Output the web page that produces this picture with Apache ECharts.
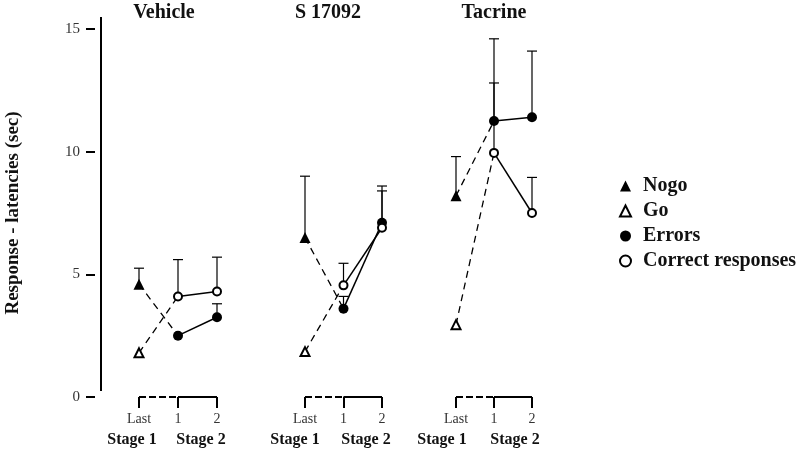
<!DOCTYPE html>
<html><head><meta charset="utf-8">
<script src="https://cdn.jsdelivr.net/npm/echarts@6/dist/echarts.min.js"></script>
<style>html,body{margin:0;padding:0;background:#fff}#c{width:800px;height:451px}</style>
</head><body><div id="c"></div>
<script>
// ---- data ----
const panels = ['Vehicle', 'S 17092', 'Tacrine'];
const xLabels = ['Last', '1', '2'];
const stageLabels = ['Stage 1', 'Stage 2'];
const legendNames = ['Nogo', 'Go', 'Errors', 'Correct responses'];
const yTicks = [0, 5, 10, 15];
const yTitle = 'Response - latencies (sec)';
// per panel values (Last stage 1)
const nogo = [4.6, 6.5, 8.2];
const nogoUpper = [5.25, 9.0, 9.8];
const go = [1.8, 1.85, 2.95];
// stage 2 (sessions 1, 2)
const errorsStage2 = [[2.5, 3.25], [3.6, 7.1], [11.25, 11.4]];
const errorsUpper = [[null, 3.8], [4.1, 8.6], [14.6, 14.1]];
const correctStage2 = [[4.1, 4.3], [4.55, 6.9], [9.95, 7.5]];
const correctUpper = [[5.6, 5.7], [5.45, 8.4], [12.8, 8.95]];

// ---- layout ----
const FONT = '"Liberation Serif", "DejaVu Serif", serif';
const gridPos = [{left: 139, width: 78}, {left: 305, width: 77}, {left: 456, width: 76}];
const gridTop = 29, gridBottom = 54;

const chart = echarts.init(document.getElementById('c'), null, {renderer: 'canvas'});

function renderErr(params, api) {
  const x = api.value(0);
  const p0 = api.coord([x, api.value(1)]);
  const p1 = api.coord([x, api.value(2)]);
  const hw = 5;
  return {type: 'group', children: [
    {type: 'line', shape: {x1: p0[0], y1: p0[1], x2: p1[0], y2: p1[1]}, style: {stroke: '#000', lineWidth: 1.2}},
    {type: 'line', shape: {x1: p1[0] - hw, y1: p1[1], x2: p1[0] + hw, y2: p1[1]}, style: {stroke: '#000', lineWidth: 1.2}}
  ]};
}

const grids = [], xAxes = [], yAxes = [], series = [];
panels.forEach((p, i) => {
  grids.push({left: gridPos[i].left, width: gridPos[i].width, top: gridTop, bottom: gridBottom});
  xAxes.push({
    type: 'category', gridIndex: i, data: xLabels, boundaryGap: false,
    axisLine: {show: false},
    axisTick: {show: true, length: 11, lineStyle: {color: '#000', width: 2}},
    axisLabel: {margin: 15, fontFamily: FONT, fontSize: 14, color: '#333'},
    splitLine: {show: false}
  });
  yAxes.push(i === 0 ? {
    type: 'value', gridIndex: i, min: 0, max: 15, interval: 5, position: 'left', offset: 44,
    name: yTitle, nameLocation: 'middle', nameRotate: 90, nameGap: 72,
    nameTextStyle: {fontFamily: FONT, fontSize: 19, fontWeight: 'bold', color: '#111'},
    axisLine: {show: false},
    axisTick: {show: true, length: 9, lineStyle: {color: '#000', width: 2}},
    axisLabel: {margin: 15, fontFamily: FONT, fontSize: 15, color: '#333'},
    splitLine: {show: false}
  } : {
    type: 'value', gridIndex: i, min: 0, max: 15, interval: 5, show: false, splitLine: {show: false}
  });
  const ax = {xAxisIndex: i, yAxisIndex: i};
  // bracket under the categories
  series.push(Object.assign({type: 'line', data: [0, 0, null], symbol: 'none', silent: true, clip: false, z: 1,
    lineStyle: {color: '#000', width: 2, type: [7, 3]}}, ax));
  series.push(Object.assign({type: 'line', data: [null, 0, 0], symbol: 'none', silent: true, clip: false, z: 1,
    lineStyle: {color: '#000', width: 2}}, ax));
  // dashed connectors stage1 -> stage2
  series.push(Object.assign({type: 'line', data: [nogo[i], errorsStage2[i][0], null], symbol: 'none', silent: true, z: 2,
    lineStyle: {color: '#000', width: 1.3, type: [7, 5]}}, ax));
  series.push(Object.assign({type: 'line', data: [go[i], correctStage2[i][0], null], symbol: 'none', silent: true, z: 2,
    lineStyle: {color: '#000', width: 1.3, type: [7, 5]}}, ax));
  // error bars
  const eb = [];
  eb.push(['Last', nogo[i], nogoUpper[i]]);
  [1, 2].forEach((k, j) => {
    if (errorsUpper[i][j] != null) eb.push([xLabels[k], errorsStage2[i][j], errorsUpper[i][j]]);
    if (correctUpper[i][j] != null) eb.push([xLabels[k], correctStage2[i][j], correctUpper[i][j]]);
  });
  series.push(Object.assign({type: 'custom', renderItem: renderErr, data: eb, encode: {x: 0, y: [1, 2]}, silent: true, z: 3, clip: false}, ax));
  // main series
  series.push(Object.assign({name: 'Errors', type: 'line', data: [null, errorsStage2[i][0], errorsStage2[i][1]],
    symbol: 'circle', symbolSize: 10, showSymbol: true, z: 5,
    itemStyle: {color: '#000'}, lineStyle: {color: '#000', width: 1.5}}, ax));
  series.push(Object.assign({name: 'Correct responses', type: 'line', data: [null, correctStage2[i][0], correctStage2[i][1]],
    symbol: 'circle', symbolSize: 8, showSymbol: true, z: 6,
    itemStyle: {color: '#fff', borderColor: '#000', borderWidth: 2}, lineStyle: {color: '#000', width: 1.5}}, ax));
  series.push(Object.assign({name: 'Nogo', type: 'line', data: [nogo[i], null, null],
    symbol: 'triangle', symbolSize: 11, showSymbol: true, z: 6,
    itemStyle: {color: '#000'}, lineStyle: {width: 0}}, ax));
  series.push(Object.assign({name: 'Go', type: 'line', data: [go[i], null, null],
    symbol: 'triangle', symbolSize: 9, showSymbol: true, z: 6,
    itemStyle: {color: '#fff', borderColor: '#000', borderWidth: 2}, lineStyle: {width: 0}}, ax));
});

const legendStyles = {
  'Nogo': {icon: 'triangle', itemStyle: {color: '#000', borderWidth: 0}},
  'Go': {icon: 'triangle', itemStyle: {color: '#fff', borderColor: '#000', borderWidth: 2}},
  'Errors': {icon: 'circle', itemStyle: {color: '#000', borderWidth: 0}},
  'Correct responses': {icon: 'circle', itemStyle: {color: '#fff', borderColor: '#000', borderWidth: 2}}
};

// titles and stage labels
const graphics = [];
const titleX = [164, 328, 494];
panels.forEach((p, i) => {
  graphics.push({type: 'text', x: titleX[i], y: 13, style: {text: p, font: 'bold 20px ' + FONT, fill: '#111', align: 'center', verticalAlign: 'middle'}});
});
const stageX = [[132, 201], [295, 366], [442, 515]];
stageX.forEach(pair => pair.forEach((x, k) => {
  graphics.push({type: 'text', x: x, y: 440, style: {text: stageLabels[k], font: 'bold 16px ' + FONT, fill: '#111', align: 'center', verticalAlign: 'middle'}});
}));
graphics.push({type: 'line', shape: {x1: 101, y1: 17, x2: 101, y2: 391}, style: {stroke: '#000', lineWidth: 2}});

chart.setOption({
  animation: false,
  backgroundColor: '#fff',
  grid: grids, xAxis: xAxes, yAxis: yAxes, series: series,
  legend: {
    orient: 'vertical', left: 614, top: 171, itemWidth: 11, itemHeight: 11, itemGap: 5,
    symbolKeepAspect: true,
    selectedMode: false,
    textStyle: {fontFamily: FONT, fontSize: 20, fontWeight: 'bold', color: '#111', padding: [0, 0, 0, 7]},
    data: legendNames.map(n => Object.assign({name: n}, legendStyles[n]))
  },
  graphic: graphics
});
</script></body></html>
